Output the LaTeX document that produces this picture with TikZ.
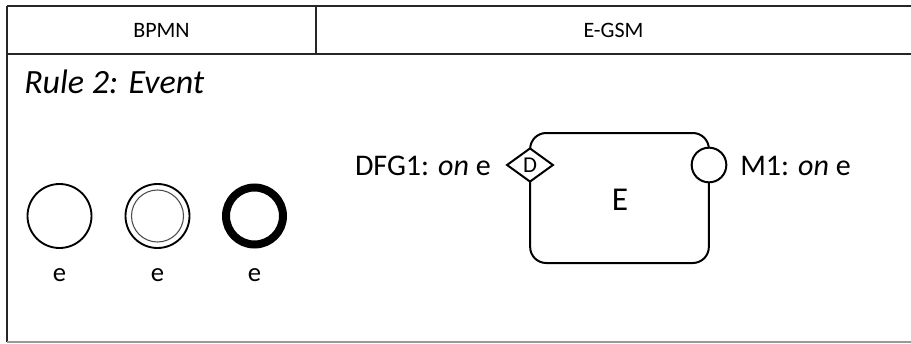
\documentclass[tikz,border=0pt]{standalone}
\usepackage{fontspec}
\setmainfont{Carlito}
\usetikzlibrary{shapes.geometric}
\tikzset{
  grid/.style={draw=black!85, line width=1.1pt},
  event/.style={circle, draw=black, line width=1.4pt, minimum size=48pt, inner sep=0pt},
  label/.style={font=\fontsize{20}{20}\selectfont, inner sep=0pt},
  guard/.style={font=\fontsize{22.5}{22.5}\selectfont, inner sep=0pt},
  stage/.style={draw=black, line width=1.5pt, rounded corners=12pt, minimum width=134pt, minimum height=97.5pt, inner sep=0pt},
  sentry/.style={diamond, draw=black, fill=white, line width=1.5pt, minimum width=35pt, minimum height=25.5pt, inner sep=0pt, font=\fontsize{17}{17}\selectfont},
  milestone/.style={circle, draw=black, fill=white, line width=1.5pt, minimum size=26pt, inner sep=0pt}
}
\begin{document}
\begin{tikzpicture}[x=0.75pt, y=-0.75pt]
\useasboundingbox (0,0) rectangle (911,343);
% table frame
\draw[grid] (7,6) -- (911,6);
\draw[grid] (7,54) -- (911,54);
\draw[grid] (7,6) -- (7,342);
\draw[grid] (316,6) -- (316,54);
\draw[draw=black!40, line width=1pt] (7,342) -- (911,342);
% header
\node[font=\fontsize{16.5}{16.5}\selectfont] (hb) at (161.5,30) {BPMN};
\node[font=\fontsize{16.5}{16.5}\selectfont] (he) at (613.5,30) {E-GSM};
\node[font=\fontsize{25.5}{25.5}\itshape, anchor=base west, inner sep=0pt] (rule) at (24,93) {Rule 2: Event};
% BPMN events
\node[event] (ev1) at (59.5,216) {};
\node[event] (ev2) at (157.5,216) {};
\draw[black!70, line width=0.8pt] (ev2.center) circle[radius=19.5pt];
\node[event, line width=6pt, minimum size=42.75pt] (ev3) at (254.5,216) {};
\node[label, anchor=base] (e1) at (59.5,281) {e};
\node[label, anchor=base] (e2) at (157.5,281) {e};
\node[label, anchor=base] (e3) at (254.5,281) {e};
% E-GSM stage
\node[stage] (stg) at (619.5,198) {};
\node[font=\fontsize{25}{25}\selectfont, anchor=base, inner sep=0pt] (stgE) at (620,210) {E};
\node[sentry] (dfg) at (530,165) {D};
\node[milestone] (m1) at (709,165) {};
\node[guard, anchor=base east] (dfgl) at (491,175) {DFG1: \textit{on} e};
\node[guard, anchor=base west] (m1l) at (740,175) {M1: \textit{on} e};
\end{tikzpicture}
\end{document}
